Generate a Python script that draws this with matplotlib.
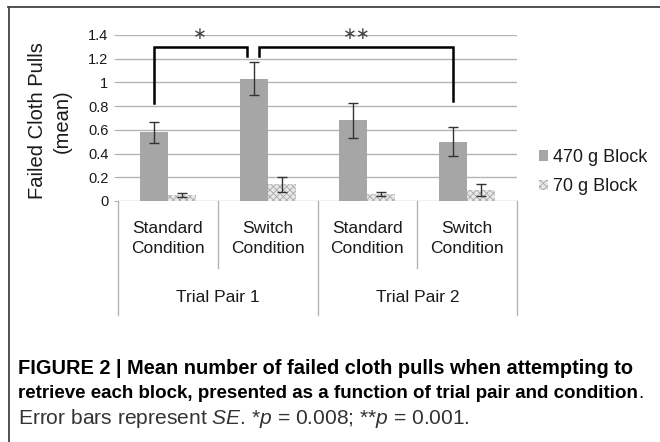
import numpy as np
import matplotlib
matplotlib.use('Agg')
import matplotlib.pyplot as plt
from matplotlib.lines import Line2D
from matplotlib.ticker import FuncFormatter

plt.rcParams['font.family'] = ['Liberation Sans', 'DejaVu Sans']
plt.rcParams['mathtext.fontset'] = 'custom'
plt.rcParams['mathtext.rm'] = 'Liberation Sans'
plt.rcParams['mathtext.it'] = 'Liberation Sans:italic'
plt.rcParams['mathtext.bf'] = 'Liberation Sans:bold'
plt.rcParams['hatch.linewidth'] = 0.6

# data
conditions = ['Standard\nCondition', 'Switch\nCondition', 'Standard\nCondition', 'Switch\nCondition']
trial_pairs = ['Trial Pair 1', 'Trial Pair 2']
heavy_mean = [0.58, 1.03, 0.68, 0.50]
heavy_se = [0.09, 0.14, 0.15, 0.12]
light_mean = [0.05, 0.14, 0.06, 0.09]
light_se = [0.02, 0.06, 0.02, 0.05]
series_names = ['470 g Block', '70 g Block']
yticks = [0, 0.2, 0.4, 0.6, 0.8, 1.0, 1.2, 1.4]

grid_col = '#b4b4b4'
txt_col = '#1a1a1a'

fig = plt.figure(figsize=(6.6, 4.42), dpi=100)
ax = fig.add_axes([118 / 660, 1 - 201 / 442, 399 / 660, 166 / 442])

x = np.arange(len(conditions))
w = 0.28
ax.bar(x - w / 2, heavy_mean, w, color='#a6a6a6', linewidth=0, zorder=2, label=series_names[0])
ax.bar(x + w / 2, light_mean, w, color='#e8e8e8', edgecolor='#a8a8a8', linewidth=0,
       hatch='xxxxx', zorder=2, label=series_names[1])
ax.errorbar(x - w / 2, heavy_mean, yerr=heavy_se, fmt='none', ecolor='#333333',
            elinewidth=1, capsize=3.5, capthick=1, zorder=3)
ax.errorbar(x + w / 2, light_mean, yerr=light_se, fmt='none', ecolor='#333333',
            elinewidth=1, capsize=3.5, capthick=1, zorder=3)

ax.set_xlim(-0.5, 3.5)
ax.set_ylim(0, 1.4)
ax.set_yticks(yticks)
ax.yaxis.set_major_formatter(FuncFormatter(lambda v, p: '%g' % round(v, 1)))
ax.tick_params(axis='y', length=3, color=grid_col, labelsize=10.5, labelcolor=txt_col, pad=4)
ax.set_xticks([])
ax.grid(axis='y', color=grid_col, linewidth=1, zorder=0)
ax.set_axisbelow(True)
for s in ax.spines.values():
    s.set_visible(False)

# category axis: separators and labels below the plot
for xs in [0.5, 2.5]:
    ax.plot([xs, xs], [0, -0.565], color=grid_col, lw=1, clip_on=False)
for xs in [-0.5, 1.5, 3.5]:
    ax.plot([xs, xs], [0, -0.96], color=grid_col, lw=1, clip_on=False)
for i, lab in enumerate(conditions):
    ax.text(i, -0.32, lab, ha='center', va='center', fontsize=12.5, color=txt_col,
            linespacing=1.42)
for j, lab in enumerate(trial_pairs):
    ax.text(2 * j + 0.5, -0.81, lab, ha='center', va='center', fontsize=12.5, color=txt_col)

# significance brackets
ax.plot([-0.14, -0.14, 0.79, 0.79], [0.83, 1.30, 1.30, 1.22], color='black', lw=1.8,
        clip_on=False, zorder=4, solid_joinstyle='miter')
ax.plot([0.91, 0.91, 2.86, 2.86], [1.22, 1.30, 1.30, 0.84], color='black', lw=1.8,
        clip_on=False, zorder=4, solid_joinstyle='miter')
ax.text(0.32, 1.405, '\u2217', ha='center', va='center', fontsize=12, family='DejaVu Sans',
        color='#444444')
ax.text(1.89, 1.405, '\u2217\u2217', ha='center', va='center', fontsize=12, family='DejaVu Sans',
        color='#444444')

fig.text(50 / 660, 1 - 121 / 442, 'Failed Cloth Pulls\n(mean)', rotation=90, ha='center',
         va='center', fontsize=14.5, color=txt_col, linespacing=1.42)

ax.legend(loc='upper left', bbox_to_anchor=(539 / 660, 1 - 149 / 442), bbox_transform=fig.transFigure,
          frameon=False, fontsize=13, handlelength=0.5, handleheight=0.5, handletextpad=0.3,
          labelspacing=0.68, borderpad=0, borderaxespad=0, labelcolor=txt_col)

# frame of the figure panel
fig.add_artist(Line2D([8 / 660, 1], [1 - 7 / 442, 1 - 7 / 442], color='#444444', lw=1.3))
fig.add_artist(Line2D([9 / 660, 9 / 660], [0, 1 - 7 / 442], color='#444444', lw=1.3))


def fit_text(t, right_px):
    # scale font so the caption line ends where it does in the original
    fig.canvas.draw()
    bb = t.get_window_extent()
    t.set_fontsize(t.get_fontsize() * (right_px - bb.x0) / bb.width)


# caption
c1 = fig.text(18 / 660, 1 - 368 / 442, 'FIGURE 2 | Mean number of failed cloth pulls when attempting to',
              fontsize=14, fontweight='bold', va='center', color='black')
fit_text(c1, 637)
c2 = fig.text(18 / 660, 1 - 393 / 442,
              'retrieve each block, presented as a function of trial pair and condition',
              fontsize=14, fontweight='bold', va='center', color='black')
fit_text(c2, 641)
c3 = fig.text(18 / 660, 1 - 418 / 442,
              r'Error bars represent $\mathit{SE}$. *$\mathit{p}$ = 0.008; **$\mathit{p}$ = 0.001.',
              fontsize=14, va='center', color='#333333')
fit_text(c3, 470)
fig.canvas.draw()
bb = c2.get_window_extent().transformed(fig.transFigure.inverted())
fig.text(bb.x1, 1 - 393 / 442, '.', fontsize=c2.get_fontsize(), va='center', color='black')

fig.savefig('out.png', dpi=100)
